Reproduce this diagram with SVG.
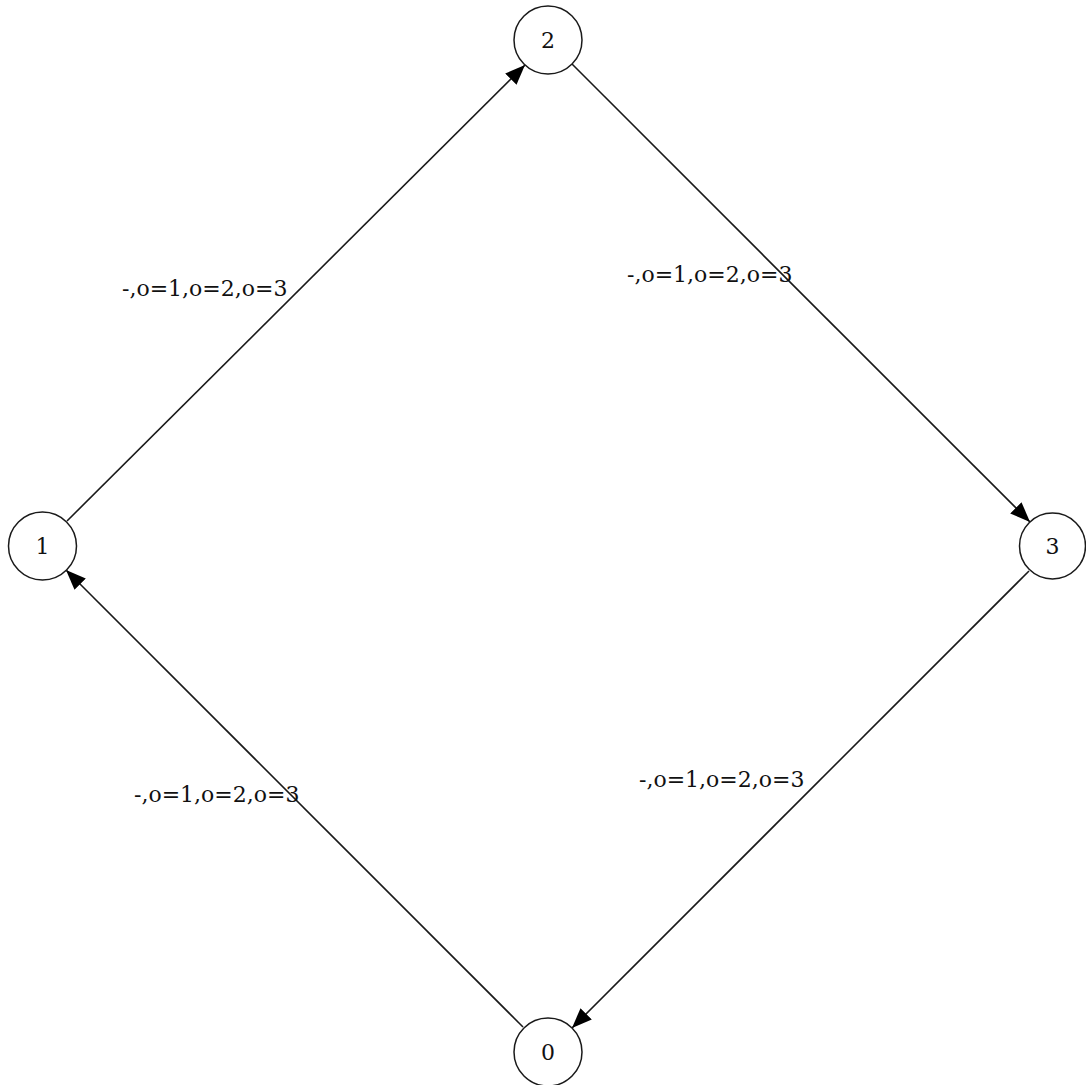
<svg xmlns="http://www.w3.org/2000/svg" width="1086" height="1085" viewBox="0 0 1086 1085">
<style>
.node circle{fill:#fff;stroke:#1a1a1a;stroke-width:1.5}
.node text{font-family:"DejaVu Serif",serif;font-size:22px;text-anchor:middle;fill:#111}
.edge line{stroke:#1a1a1a;stroke-width:1.6}
.lbl{font-family:"DejaVu Serif",serif;font-size:22px;fill:#111}
</style>
<defs>
<marker id="ah" markerUnits="userSpaceOnUse" markerWidth="20" markerHeight="16" refX="20" refY="8" orient="auto" viewBox="0 0 20 16">
<path d="M0,0 L20,8 L0,16 z" fill="#000"/>
</marker>
</defs>
<rect width="1086" height="1085" fill="#fff"/>
<g id="edges" class="edge">
<line x1="67" y1="521" x2="525" y2="65" marker-end="url(#ah)"/>
<line x1="572" y1="64" x2="1030" y2="522" marker-end="url(#ah)"/>
<line x1="1029" y1="571" x2="572" y2="1028" marker-end="url(#ah)"/>
<line x1="523" y1="1027" x2="66" y2="570" marker-end="url(#ah)"/>
<text class="lbl" x="122" y="296">-,o=1,o=2,o=3</text>
<text class="lbl" x="627" y="282">-,o=1,o=2,o=3</text>
<text class="lbl" x="639" y="787">-,o=1,o=2,o=3</text>
<text class="lbl" x="134" y="802">-,o=1,o=2,o=3</text>
</g>
<g id="node2" class="node"><circle cx="548" cy="40" r="34"/><text x="548" y="48">2</text></g>
<g id="node1" class="node"><circle cx="42.5" cy="546" r="34"/><text x="42.5" y="554">1</text></g>
<g id="node3" class="node"><circle cx="1052.5" cy="546" r="33"/><text x="1052.5" y="554">3</text></g>
<g id="node0" class="node"><circle cx="548" cy="1052" r="34"/><text x="548" y="1060">0</text></g>
</svg>
